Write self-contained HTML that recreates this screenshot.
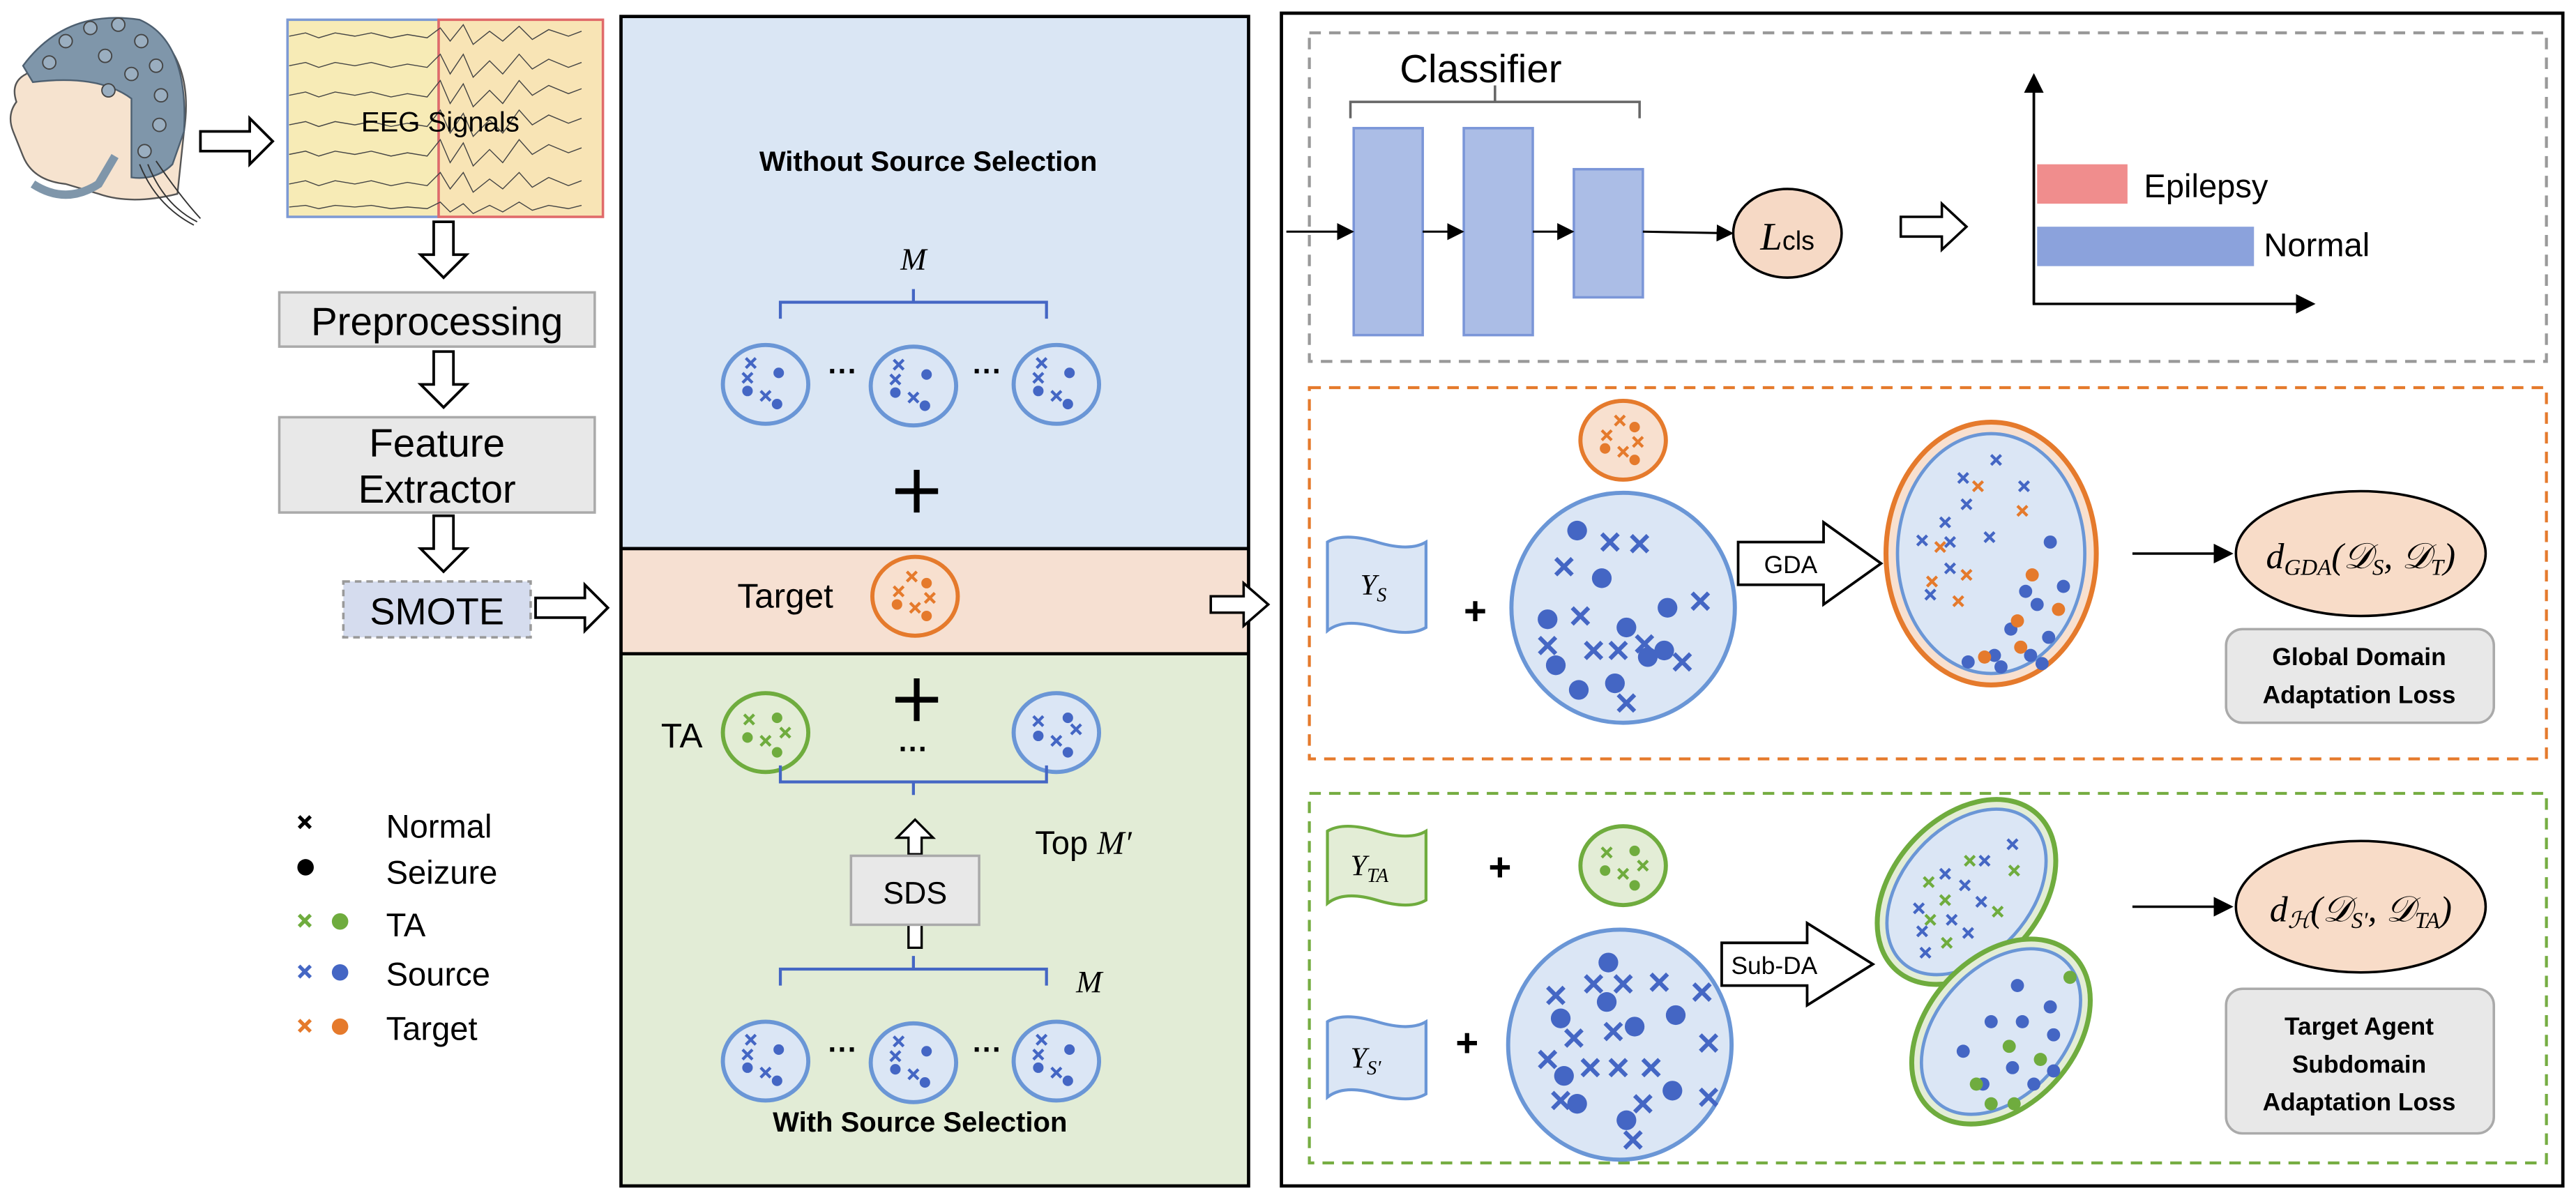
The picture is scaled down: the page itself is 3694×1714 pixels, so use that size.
<!DOCTYPE html>
<html><head><meta charset="utf-8"><style>
html,body{margin:0;padding:0;background:#fff;}
svg{display:block;}
text{font-family:"Liberation Sans",sans-serif;}
.it{font-family:"Liberation Serif",serif;font-style:italic;}
</style></head><body>
<svg width="3694" height="1714" viewBox="0 0 1568 727.5" xmlns="http://www.w3.org/2000/svg">
<defs>
<g id="xb"><path d="M-3,-3L3,3M3,-3L-3,3" stroke="#4466c4" stroke-width="1.8"/></g>
<g id="xo"><path d="M-3,-3L3,3M3,-3L-3,3" stroke="#e57a2c" stroke-width="1.8"/></g>
<g id="xg"><path d="M-3,-3L3,3M3,-3L-3,3" stroke="#6fac3e" stroke-width="1.8"/></g>
<g id="Xb"><path d="M-5,-5L5,5M5,-5L-5,5" stroke="#4466c4" stroke-width="2.6"/></g>
<g id="smallB">
<ellipse cx="0" cy="0" rx="26" ry="24" fill="#dbe6f5" stroke="#6a96d6" stroke-width="2.5"/>
<use href="#xb" x="-9" y="-13"/><use href="#xb" x="-11" y="-4"/><use href="#xb" x="0" y="7"/>
<circle cx="8" cy="-7" r="3.2" fill="#4466c4"/><circle cx="-11" cy="4" r="3.2" fill="#4466c4"/><circle cx="7" cy="12" r="3.2" fill="#4466c4"/>
</g>
<g id="smallB2">
<ellipse cx="0" cy="0" rx="26" ry="24" fill="#dbe6f5" stroke="#6a96d6" stroke-width="2.5"/>
<use href="#xb" x="-11" y="-7"/><use href="#xb" x="0" y="5"/><use href="#xb" x="12" y="-2"/>
<circle cx="7" cy="-9" r="3.2" fill="#4466c4"/><circle cx="-11" cy="2" r="3.2" fill="#4466c4"/><circle cx="7" cy="12" r="3.2" fill="#4466c4"/>
</g>
<g id="smallO">
<ellipse cx="0" cy="0" rx="26" ry="24" fill="#f8e0cf" stroke="#e57a2c" stroke-width="2.5"/>
<use href="#xo" x="-2" y="-12"/><use href="#xo" x="-10" y="-3"/><use href="#xo" x="0" y="7"/><use href="#xo" x="9" y="1"/>
<circle cx="7" cy="-8" r="3.2" fill="#e57a2c"/><circle cx="-11" cy="5" r="3.2" fill="#e57a2c"/><circle cx="7" cy="12" r="3.2" fill="#e57a2c"/>
</g>
<g id="smallG">
<ellipse cx="0" cy="0" rx="26" ry="24" fill="#e3edd6" stroke="#6fac3e" stroke-width="2.5"/>
<use href="#xg" x="-10" y="-8"/><use href="#xg" x="0" y="5"/><use href="#xg" x="12" y="0"/>
<circle cx="7" cy="-9" r="3.2" fill="#6fac3e"/><circle cx="-11" cy="3" r="3.2" fill="#6fac3e"/><circle cx="7" cy="12" r="3.2" fill="#6fac3e"/>
</g>
<g id="arrR"><path d="M0,-6H30V-14L44,0L30,14V6H0Z" fill="#fff" stroke="#000" stroke-width="1.6"/></g>
<g id="arrD"><path d="M-6,0V20H-14L0,34L14,20H6V0Z" fill="#fff" stroke="#000" stroke-width="1.6"/></g>
<marker id="ah" markerWidth="8" markerHeight="8" refX="7" refY="4" orient="auto"><path d="M0,0L8,4L0,8Z" fill="#000"/></marker>
</defs>

<!-- head -->
<path d="M30,30 Q60,5 95,20 Q118,40 112,80 L108,118 Q80,125 60,118 L40,112 Q20,110 14,95 L8,80 Q4,70 10,62 Q6,50 16,45 Z" fill="#f6e3cf" stroke="#555" stroke-width="1"/>
<path d="M14,40 Q40,5 85,12 Q115,25 112,80 L105,100 Q95,110 80,108 L80,60 Q60,45 20,50 Z" fill="#7f96aa" stroke="#4d5f70" stroke-width="1"/>
<path d="M20,112 Q40,125 60,112 L70,95" fill="none" stroke="#7f96aa" stroke-width="5"/>
<g fill="#9aaec0" stroke="#444" stroke-width="0.8">
<circle cx="40" cy="25" r="4"/><circle cx="55" cy="17" r="4"/><circle cx="72" cy="15" r="4"/><circle cx="86" cy="25" r="4"/><circle cx="95" cy="40" r="4"/><circle cx="98" cy="58" r="4"/><circle cx="97" cy="76" r="4"/><circle cx="88" cy="92" r="4"/><circle cx="64" cy="34" r="4"/><circle cx="80" cy="45" r="4"/><circle cx="30" cy="38" r="4"/><circle cx="66" cy="55" r="4"/>
</g>
<path d="M90,100 Q100,125 120,135 M85,100 Q95,125 118,137 M95,98 Q110,120 122,133" stroke="#333" fill="none" stroke-width="0.8"/>

<use href="#arrR" x="122" y="86"/>

<!-- EEG -->
<rect x="175" y="12" width="92" height="120" fill="#f7ebb6" stroke="#7d9ad4" stroke-width="1.5"/>
<rect x="267" y="12" width="100" height="120" fill="#f8e4b5" stroke="#e06a6a" stroke-width="1.5"/>
<g stroke="#444" stroke-width="0.6" fill="none">
<path d="M176,22 l10,-2 l8,3 l10,-3 l12,2 l10,-2 l12,3 l10,-2 l12,2 l8,-6 l6,8 l8,-10 l6,12 l10,-8 l8,6 l10,-9 l8,8 l10,-6 l12,4 l8,-3"/>
<path d="M176,40 l10,-2 l8,3 l10,-3 l12,2 l10,-2 l12,3 l10,-2 l12,2 l8,-8 l6,12 l8,-12 l6,14 l10,-10 l8,8 l10,-12 l8,9 l10,-6 l12,5 l8,-3"/>
<path d="M176,58 l10,-2 l8,3 l10,-3 l12,2 l10,-2 l12,3 l10,-2 l12,2 l8,-10 l6,14 l8,-12 l6,14 l10,-10 l8,8 l10,-14 l8,9 l10,-6 l12,5 l8,-3"/>
<path d="M176,76 l10,-2 l8,3 l10,-3 l12,2 l10,-2 l12,3 l10,-2 l12,2 l8,-10 l6,14 l8,-12 l6,14 l10,-10 l8,8 l10,-14 l8,9 l10,-6 l12,5 l8,-3"/>
<path d="M176,94 l10,-2 l8,3 l10,-3 l12,2 l10,-2 l12,3 l10,-2 l12,2 l8,-10 l6,14 l8,-12 l6,14 l10,-10 l8,8 l10,-14 l8,9 l10,-6 l12,5 l8,-3"/>
<path d="M176,112 l10,-2 l8,3 l10,-3 l12,2 l10,-2 l12,3 l10,-2 l12,2 l8,-8 l6,10 l8,-10 l6,12 l10,-8 l8,6 l10,-10 l8,9 l10,-6 l12,5 l8,-3"/>
<path d="M176,126 l10,-1 l8,2 l10,-2 l12,1 l10,-1 l12,2 l10,-1 l12,1 l8,-4 l6,6 l8,-5 l6,6 l10,-5 l8,4 l10,-6 l8,5 l10,-3 l12,2 l8,-2"/>
</g>
<text x="268" y="80" font-size="17" text-anchor="middle" fill="#000">EEG Signals</text>

<use href="#arrD" x="270" y="135"/>
<rect x="170" y="178" width="192" height="33" fill="#e8e8e8" stroke="#aaa" stroke-width="1.5"/>
<text x="266" y="204" font-size="24" text-anchor="middle">Preprocessing</text>
<use href="#arrD" x="270" y="214"/>
<rect x="170" y="254" width="192" height="58" fill="#e8e8e8" stroke="#aaa" stroke-width="1.5"/>
<text x="266" y="278" font-size="24" text-anchor="middle">Feature</text>
<text x="266" y="306" font-size="24" text-anchor="middle">Extractor</text>
<use href="#arrD" x="270" y="314"/>
<rect x="209" y="354" width="114" height="34" fill="#d5dcee" stroke="#999" stroke-width="1.5" stroke-dasharray="4,3"/>
<text x="266" y="380" font-size="23" text-anchor="middle">SMOTE</text>
<use href="#arrR" x="326" y="370"/>

<!-- legend -->
<g font-size="20">
<path d="M182,497l7,7M189,497l-7,7" stroke="#000" stroke-width="2.2"/><text x="235" y="510">Normal</text>
<circle cx="186" cy="528" r="5" fill="#000"/><text x="235" y="538">Seizure</text>
<path d="M182,557l7,7M189,557l-7,7" stroke="#6fac3e" stroke-width="2.2"/><circle cx="207" cy="561" r="5" fill="#6fac3e"/><text x="235" y="570">TA</text>
<path d="M182,588l7,7M189,588l-7,7" stroke="#4466c4" stroke-width="2.2"/><circle cx="207" cy="592" r="5" fill="#4466c4"/><text x="235" y="600">Source</text>
<path d="M182,621l7,7M189,621l-7,7" stroke="#e57a2c" stroke-width="2.2"/><circle cx="207" cy="625" r="5" fill="#e57a2c"/><text x="235" y="633">Target</text>
</g>

<!-- middle panel -->
<rect x="378" y="10" width="382" height="324" fill="#dae6f4"/>
<rect x="378" y="334" width="382" height="64" fill="#f6e0d2"/>
<rect x="378" y="398" width="382" height="324" fill="#e2ecd6"/>
<rect x="378" y="10" width="382" height="712" fill="none" stroke="#000" stroke-width="2"/>
<line x1="378" y1="334" x2="760" y2="334" stroke="#000" stroke-width="2"/>
<line x1="378" y1="398" x2="760" y2="398" stroke="#000" stroke-width="2"/>
<text x="565" y="104" font-size="17" font-weight="bold" text-anchor="middle">Without Source Selection</text>
<text x="556" y="164" font-size="19" class="it" text-anchor="middle">M</text>
<path d="M475,194V184H556V176M556,184H637V194" fill="none" stroke="#4466c4" stroke-width="1.8"/>
<use href="#smallB" x="466" y="234"/><use href="#smallB" x="556" y="235"/><use href="#smallB" x="643" y="234"/>
<text x="513" y="232" font-size="18" font-weight="bold" text-anchor="middle">···</text>
<text x="601" y="232" font-size="18" font-weight="bold" text-anchor="middle">···</text>
<path d="M545,299H571M558,286V312" stroke="#000" stroke-width="3.5"/>
<text x="478" y="370" font-size="21" text-anchor="middle">Target</text>
<use href="#smallO" x="557" y="363"/>
<path d="M545,426H571M558,413V439" stroke="#000" stroke-width="3.5"/>
<text x="415" y="455" font-size="21" text-anchor="middle">TA</text>
<use href="#smallG" x="466" y="446"/><use href="#smallB2" x="643" y="446"/>
<text x="556" y="462" font-size="18" font-weight="bold" text-anchor="middle">···</text>
<path d="M475,466V476H556V484M556,476H637V466" fill="none" stroke="#4466c4" stroke-width="1.8"/>
<path d="M553,520V510H546L557,499L568,510H561V520Z" fill="#fff" stroke="#000" stroke-width="1.4"/>
<path d="M553,563V577H561V563" fill="#fff" stroke="#000" stroke-width="1.4"/>
<rect x="518" y="521" width="78" height="42" fill="#e8e8e8" stroke="#aaa" stroke-width="1.5"/>
<text x="557" y="550" font-size="19" text-anchor="middle">SDS</text>
<text x="630" y="520" font-size="20">Top <tspan class="it">M′</tspan></text>
<path d="M475,600V590H556V582M556,590H637V600" fill="none" stroke="#4466c4" stroke-width="1.8"/>
<text x="655" y="604" font-size="19" class="it">M</text>
<use href="#smallB" x="466" y="646"/><use href="#smallB" x="556" y="647"/><use href="#smallB" x="643" y="646"/>
<text x="513" y="645" font-size="18" font-weight="bold" text-anchor="middle">···</text>
<text x="601" y="645" font-size="18" font-weight="bold" text-anchor="middle">···</text>
<text x="560" y="689" font-size="17" font-weight="bold" text-anchor="middle">With Source Selection</text>

<path d="M737,363H757V355L772,368L757,381V373H737Z" fill="#fff" stroke="#000" stroke-width="1.5"/>

<!-- right panel -->
<rect x="780" y="8" width="780" height="714" fill="none" stroke="#000" stroke-width="2"/>
<rect x="797" y="20" width="753" height="200" fill="none" stroke="#999" stroke-width="1.8" stroke-dasharray="7,5"/>
<text x="852" y="50" font-size="24">Classifier</text>
<path d="M822,72V62H998V72M910,62V52" fill="none" stroke="#666" stroke-width="1.5"/>
<g fill="#abbde6" stroke="#7b96d8" stroke-width="1.5">
<rect x="824" y="78" width="42" height="126"/><rect x="891" y="78" width="42" height="126"/><rect x="958" y="103" width="42" height="78"/>
</g>
<g stroke="#000" stroke-width="1.3" marker-end="url(#ah)">
<line x1="783" y1="141" x2="823" y2="141"/><line x1="866" y1="141" x2="890" y2="141"/><line x1="933" y1="141" x2="957" y2="141"/><line x1="1000" y1="141" x2="1054" y2="142"/>
</g>
<ellipse cx="1088" cy="142" rx="33" ry="27" fill="#f6d9c5" stroke="#000" stroke-width="1.5"/>
<text x="1088" y="152" font-size="24" text-anchor="middle"><tspan class="it">L</tspan><tspan font-size="16">cls</tspan></text>
<path d="M1157,132H1182V124L1197,138L1182,152V144H1157Z" fill="#fff" stroke="#000" stroke-width="1.5"/>
<path d="M1238,48V185H1408" fill="none" stroke="#000" stroke-width="1.5" marker-end="url(#ah)"/>
<line x1="1238" y1="185" x2="1238" y2="46" stroke="#000" stroke-width="1.5" marker-end="url(#ah)"/>
<rect x="1240" y="100" width="55" height="24" fill="#f08d8d"/>
<rect x="1240" y="138" width="132" height="24" fill="#8ba2dc"/>
<text x="1305" y="120" font-size="20">Epilepsy</text>
<text x="1378" y="156" font-size="20">Normal</text>

<!-- orange box -->
<rect x="797" y="236" width="753" height="226" fill="none" stroke="#e57a2c" stroke-width="1.8" stroke-dasharray="7,5"/>
<use href="#smallO" x="988" y="268"/>
<path d="M808,330 Q818,324 838,330 Q858,336 868,330 V382 Q858,388 838,382 Q818,376 808,384Z" fill="#dbe6f5" stroke="#6a96d6" stroke-width="1.8"/>
<text x="828" y="362" font-size="18" class="it">Y<tspan font-size="12" dy="4">S</tspan></text>
<text x="898" y="380" font-size="24" font-weight="bold" text-anchor="middle">+</text>
<ellipse cx="988" cy="370" rx="68" ry="70" fill="#dbe6f5" stroke="#6a96d6" stroke-width="2.5"/>
<g fill="#4466c4">
<circle cx="960" cy="323" r="6"/><circle cx="975" cy="352" r="6"/><circle cx="942" cy="377" r="6"/><circle cx="990" cy="382" r="6"/><circle cx="1015" cy="370" r="6"/><circle cx="947" cy="405" r="6"/><circle cx="961" cy="420" r="6"/><circle cx="983" cy="416" r="6"/><circle cx="1003" cy="400" r="6"/><circle cx="1013" cy="396" r="6"/>
</g>
<use href="#Xb" x="980" y="330"/><use href="#Xb" x="998" y="331"/><use href="#Xb" x="952" y="345"/><use href="#Xb" x="962" y="375"/><use href="#Xb" x="942" y="393"/><use href="#Xb" x="1035" y="366"/><use href="#Xb" x="970" y="396"/><use href="#Xb" x="985" y="396"/><use href="#Xb" x="1001" y="392"/><use href="#Xb" x="1024" y="403"/><use href="#Xb" x="990" y="428"/>
<path d="M1058,330H1110V318L1145,343L1110,368V356H1058Z" fill="#fff" stroke="#000" stroke-width="1.6"/>
<text x="1090" y="349" font-size="15" text-anchor="middle">GDA</text>
<ellipse cx="1212" cy="337" rx="64" ry="80" fill="#f8e0cf" stroke="#e57a2c" stroke-width="3"/>
<ellipse cx="1212" cy="337" rx="57" ry="73" fill="#dbe6f5" stroke="#6a96d6" stroke-width="2"/>
<use href="#xb" x="1215" y="280"/><use href="#xb" x="1195" y="291"/><use href="#xb" x="1232" y="296"/><use href="#xb" x="1197" y="307"/><use href="#xb" x="1184" y="318"/><use href="#xb" x="1170" y="329"/><use href="#xb" x="1187" y="330"/><use href="#xb" x="1211" y="327"/><use href="#xb" x="1187" y="346"/><use href="#xb" x="1175" y="362"/>
<use href="#xo" x="1204" y="296"/><use href="#xo" x="1231" y="311"/><use href="#xo" x="1181" y="333"/><use href="#xo" x="1197" y="350"/><use href="#xo" x="1176" y="354"/><use href="#xo" x="1192" y="366"/>
<g fill="#4466c4"><circle cx="1248" cy="330" r="4"/><circle cx="1256" cy="357" r="4"/><circle cx="1233" cy="360" r="4"/><circle cx="1240" cy="368" r="4"/><circle cx="1224" cy="383" r="4"/><circle cx="1247" cy="388" r="4"/><circle cx="1214" cy="399" r="4"/><circle cx="1236" cy="399" r="4"/><circle cx="1198" cy="403" r="4"/><circle cx="1218" cy="406" r="4"/><circle cx="1243" cy="404" r="4"/></g>
<g fill="#e57a2c"><circle cx="1237" cy="350" r="4"/><circle cx="1228" cy="378" r="4"/><circle cx="1253" cy="371" r="4"/><circle cx="1230" cy="394" r="4"/><circle cx="1208" cy="400" r="4"/></g>
<line x1="1298" y1="337" x2="1358" y2="337" stroke="#000" stroke-width="1.5" marker-end="url(#ah)"/>
<ellipse cx="1437" cy="337" rx="76" ry="38" fill="#f8dcc8" stroke="#000" stroke-width="1.5"/>
<text x="1437" y="346" font-size="22" text-anchor="middle" class="it">d<tspan font-size="14" dy="4">GDA</tspan><tspan dy="-4">(𝒟</tspan><tspan font-size="14" dy="4">S</tspan><tspan dy="-4">, 𝒟</tspan><tspan font-size="14" dy="4">T</tspan><tspan dy="-4">)</tspan></text>
<rect x="1355" y="383" width="163" height="57" rx="10" fill="#e8e8e8" stroke="#aaa" stroke-width="1.5"/>
<text x="1436" y="405" font-size="15" font-weight="bold" text-anchor="middle">Global Domain</text>
<text x="1436" y="428" font-size="15" font-weight="bold" text-anchor="middle">Adaptation Loss</text>

<!-- green box -->
<rect x="797" y="483" width="753" height="225" fill="none" stroke="#76ad42" stroke-width="1.8" stroke-dasharray="7,5"/>
<path d="M808,506 Q818,500 838,506 Q858,512 868,506 V548 Q858,554 838,548 Q818,542 808,550Z" fill="#e3edd6" stroke="#6fac3e" stroke-width="1.8"/>
<text x="822" y="533" font-size="18" class="it">Y<tspan font-size="12" dy="4">TA</tspan></text>
<text x="913" y="536" font-size="24" font-weight="bold" text-anchor="middle">+</text>
<use href="#smallG" x="988" y="527"/>
<path d="M808,622 Q818,616 838,622 Q858,628 868,622 V666 Q858,672 838,666 Q818,660 808,668Z" fill="#dbe6f5" stroke="#6a96d6" stroke-width="1.8"/>
<text x="822" y="650" font-size="18" class="it">Y<tspan font-size="12" dy="4">S′</tspan></text>
<text x="893" y="643" font-size="24" font-weight="bold" text-anchor="middle">+</text>
<ellipse cx="986" cy="636" rx="68" ry="70" fill="#dbe6f5" stroke="#6a96d6" stroke-width="2.5"/>
<g fill="#4466c4">
<circle cx="979" cy="586" r="6"/><circle cx="978" cy="610" r="6"/><circle cx="950" cy="620" r="6"/><circle cx="995" cy="625" r="6"/><circle cx="1020" cy="618" r="6"/><circle cx="952" cy="655" r="6"/><circle cx="960" cy="672" r="6"/><circle cx="1018" cy="664" r="6"/><circle cx="990" cy="682" r="6"/>
</g>
<use href="#Xb" x="970" y="599"/><use href="#Xb" x="988" y="599"/><use href="#Xb" x="1010" y="598"/><use href="#Xb" x="1036" y="604"/><use href="#Xb" x="947" y="606"/><use href="#Xb" x="958" y="632"/><use href="#Xb" x="982" y="628"/><use href="#Xb" x="942" y="645"/><use href="#Xb" x="1040" y="635"/><use href="#Xb" x="968" y="650"/><use href="#Xb" x="985" y="650"/><use href="#Xb" x="1005" y="650"/><use href="#Xb" x="950" y="670"/><use href="#Xb" x="1000" y="672"/><use href="#Xb" x="1040" y="668"/><use href="#Xb" x="994" y="694"/>
<path d="M1048,574H1100V562L1140,587L1100,612V600H1048Z" fill="#fff" stroke="#000" stroke-width="1.6"/>
<text x="1080" y="593" font-size="15" text-anchor="middle">Sub-DA</text>
<g transform="translate(1197,543) rotate(-48)">
<ellipse rx="64" ry="45" fill="#e3edd6" stroke="#6fac3e" stroke-width="3"/>
<ellipse rx="58" ry="39" fill="#dbe6f5" stroke="#6a96d6" stroke-width="2"/>
</g>
<use href="#xb" x="1225" y="514"/><use href="#xb" x="1208" y="524"/><use href="#xb" x="1184" y="532"/><use href="#xb" x="1196" y="539"/><use href="#xb" x="1206" y="549"/><use href="#xb" x="1168" y="553"/><use href="#xb" x="1188" y="560"/><use href="#xb" x="1170" y="567"/><use href="#xb" x="1198" y="568"/><use href="#xb" x="1172" y="580"/>
<use href="#xg" x="1199" y="524"/><use href="#xg" x="1174" y="537"/><use href="#xg" x="1226" y="530"/><use href="#xg" x="1184" y="548"/><use href="#xg" x="1216" y="555"/><use href="#xg" x="1175" y="560"/><use href="#xg" x="1185" y="574"/>
<g transform="translate(1218,628) rotate(-48)">
<ellipse rx="64" ry="45" fill="#e3edd6" stroke="#6fac3e" stroke-width="3"/>
<ellipse rx="58" ry="39" fill="#dbe6f5" stroke="#6a96d6" stroke-width="2"/>
</g>
<g fill="#4466c4"><circle cx="1228" cy="600" r="4"/><circle cx="1248" cy="613" r="4"/><circle cx="1212" cy="622" r="4"/><circle cx="1231" cy="622" r="4"/><circle cx="1250" cy="630" r="4"/><circle cx="1195" cy="640" r="4"/><circle cx="1225" cy="650" r="4"/><circle cx="1250" cy="652" r="4"/><circle cx="1207" cy="660" r="4"/><circle cx="1238" cy="660" r="4"/></g>
<g fill="#6fac3e"><circle cx="1260" cy="595" r="4"/><circle cx="1223" cy="637" r="4"/><circle cx="1242" cy="645" r="4"/><circle cx="1203" cy="660" r="4"/><circle cx="1212" cy="672" r="4"/><circle cx="1226" cy="672" r="4"/></g>
<line x1="1298" y1="552" x2="1358" y2="552" stroke="#000" stroke-width="1.5" marker-end="url(#ah)"/>
<ellipse cx="1437" cy="552" rx="76" ry="40" fill="#f8dcc8" stroke="#000" stroke-width="1.5"/>
<text x="1437" y="561" font-size="22" text-anchor="middle" class="it">d<tspan font-size="14" dy="4">ℋ</tspan><tspan dy="-4">(𝒟</tspan><tspan font-size="14" dy="4">S′</tspan><tspan dy="-4">, 𝒟</tspan><tspan font-size="14" dy="4">TA</tspan><tspan dy="-4">)</tspan></text>
<rect x="1355" y="602" width="163" height="88" rx="10" fill="#e8e8e8" stroke="#aaa" stroke-width="1.5"/>
<text x="1436" y="630" font-size="15" font-weight="bold" text-anchor="middle">Target Agent</text>
<text x="1436" y="653" font-size="15" font-weight="bold" text-anchor="middle">Subdomain</text>
<text x="1436" y="676" font-size="15" font-weight="bold" text-anchor="middle">Adaptation Loss</text>
</svg>
</body></html>
